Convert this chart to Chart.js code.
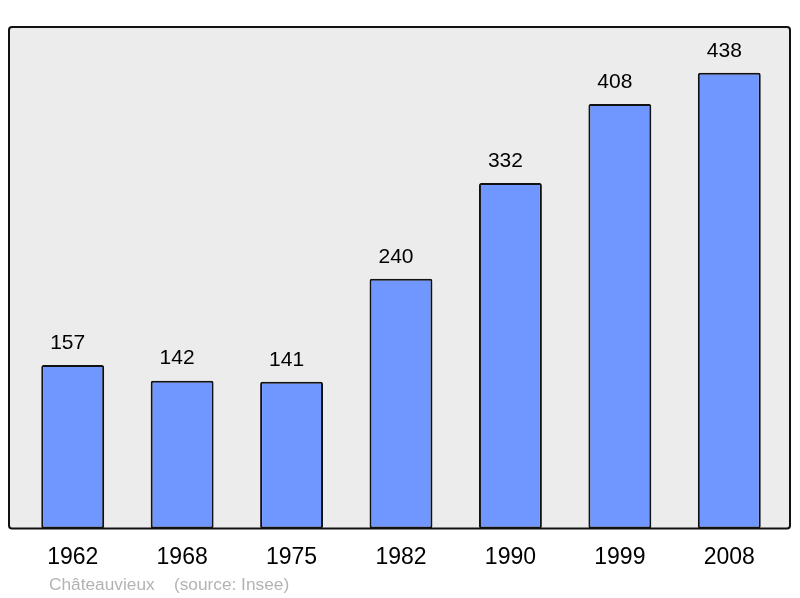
<!DOCTYPE html>
<html>
<head>
<meta charset="utf-8">
<script src="https://cdn.jsdelivr.net/npm/chart.js@4"></script>
<style>
    html, body { margin: 0; padding: 0; background: #ffffff; }
    canvas { display: block; }
</style>
</head>
<body>
<canvas id="chart" width="800" height="598"></canvas>
<script>
const years = ["1962", "1968", "1975", "1982", "1990", "1999", "2008"];
const population = [157, 142, 141, 240, 332, 408, 438];
const yMax = 482;
const sourceText = "Châteauvieux    (source: Insee)";

// Grey frame behind the bars
const framePlugin = {
    id: 'frame',
    beforeDraw(chart) {
        const ctx = chart.ctx;
        const area = chart.chartArea;
        const x0 = 9, x1 = 790, y0 = area.top, y1 = area.bottom;
        ctx.save();
        ctx.beginPath();
        ctx.roundRect(x0, y0, x1 - x0, y1 - y0, 3);
        ctx.fillStyle = '#ececec';
        ctx.fill();
        ctx.lineWidth = 2;
        ctx.strokeStyle = '#111111';
        ctx.stroke();
        ctx.restore();
    }
};

// Values above each bar (sitting a little left of centre) and the source line
const labelPlugin = {
    id: 'labels',
    afterDatasetsDraw(chart) {
        const ctx = chart.ctx;
        const meta = chart.getDatasetMeta(0);
        ctx.save();
        ctx.fillStyle = '#000000';
        ctx.font = '21px "Liberation Sans", Arial, sans-serif';
        ctx.textAlign = 'center';
        ctx.textBaseline = 'middle';
        meta.data.forEach((bar, i) => {
            ctx.fillText(population[i], bar.x - 5, bar.y - 22);
        });
        ctx.fillStyle = '#b3b3b3';
        ctx.font = '17.3px "Liberation Sans", Arial, sans-serif';
        ctx.textAlign = 'left';
        ctx.fillText(sourceText, 49, 585);
        ctx.restore();
    }
};

new Chart(document.getElementById('chart'), {
    type: 'bar',
    data: {
        labels: years,
        datasets: [
            {
                data: population,
                backgroundColor: '#7096ff',
                borderColor: '#111111',
                borderWidth: 2,
                borderRadius: 2,
                borderSkipped: false,
                barPercentage: 0.575,
                categoryPercentage: 1
            }
        ]
    },
    options: {
        responsive: false,
        animation: false,
        devicePixelRatio: 1,
        layout: {
            padding: { left: 18, right: 16, top: 27, bottom: 12 }
        },
        plugins: {
            legend: { display: false },
            tooltip: { enabled: false }
        },
        scales: {
            x: {
                grid: { display: false, drawTicks: false },
                border: { display: false },
                ticks: {
                    color: '#000000',
                    padding: 15,
                    autoSkip: false,
                    maxRotation: 0,
                    font: { family: '"Liberation Sans", Arial, sans-serif', size: 23 }
                }
            },
            y: {
                display: false,
                min: 0,
                max: yMax
            }
        }
    },
    plugins: [framePlugin, labelPlugin]
});
</script>
</body>
</html>
